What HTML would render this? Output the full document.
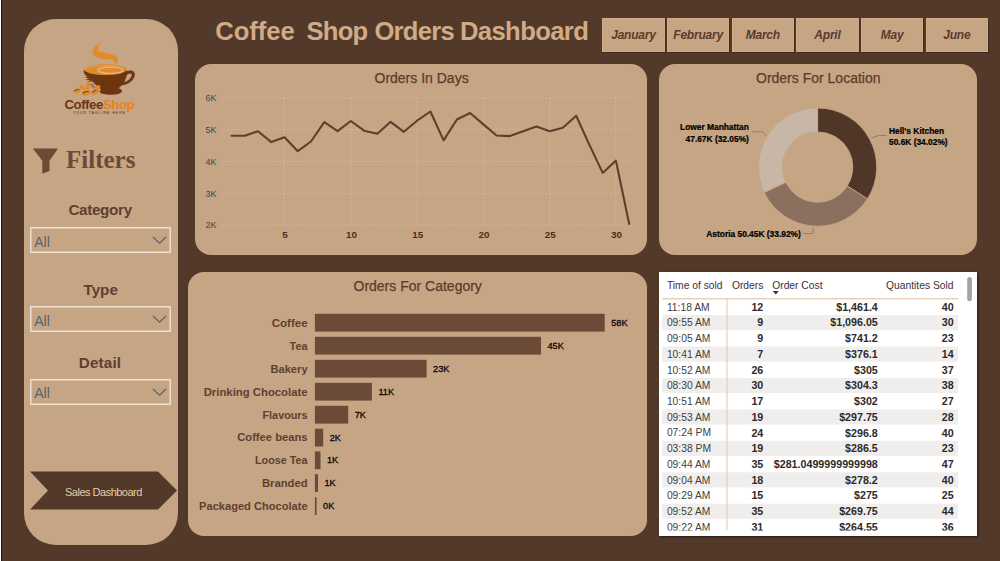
<!DOCTYPE html>
<html lang="en">
<head>
<meta charset="utf-8">
<title>Coffee Shop Orders Dashboard</title>
<style>
*{box-sizing:border-box;margin:0;padding:0}
html,body{width:1000px;height:561px;overflow:hidden}
body{background:#523929;font-family:"Liberation Sans",sans-serif;position:relative}
.abs{position:absolute}
.t{position:absolute;white-space:nowrap;line-height:1}
.panel{position:absolute;background:#c6a585}
#edgeL{left:0;top:0;width:1px;height:561px;background:#fff}
#edgeL2{left:1px;top:0;width:1px;height:561px;background:#2a1610}
#side{left:24px;top:19px;width:154px;height:526px;border-radius:32px}
#pLine{left:195px;top:64px;width:452px;height:191px;border-radius:16px}
#pDonut{left:659px;top:64px;width:318px;height:191px;border-radius:16px}
#pBar{left:188px;top:272px;width:459px;height:264px;border-radius:16px}
#pTable{left:659px;top:272px;width:318px;height:264px;background:#fff;overflow:hidden;box-shadow:1px 1px 2px #2a1610}
.tw{top:18.7px;font-size:25.6px;font-weight:bold;color:#d0ab87}
.mbtn{position:absolute;top:18px;width:62.6px;height:34px;background:#c6a585;border:1px solid #d1ac89;box-shadow:1px 1px 0 #3e291c;
  font-weight:bold;font-style:italic;font-size:12px;color:#5a3b2a;text-align:center;line-height:32px;letter-spacing:-0.2px}
.ptitle{color:#5b3c2b;font-size:14px;-webkit-text-stroke:0.25px #5b3c2b}
.flabel{font-weight:bold;color:#5e4030;font-size:15.2px;text-align:center;width:154px;left:24px}
.dd{position:absolute;left:30px;width:141px;height:26px}
.dd span{position:absolute;left:4.2px;top:7.9px;font-size:14.1px;color:#56636e;line-height:1}
.dd svg.bx{position:absolute;left:0;top:0}
.dd svg.cv{position:absolute;left:122.3px;top:9px}
</style>
</head>
<body>
<div class="abs" id="edgeL"></div><div class="abs" id="edgeL2"></div>

<!-- SIDEBAR -->
<div class="panel" id="side"></div>
<!-- logo -->
<svg class="abs" style="left:60px;top:38px" width="80" height="80" viewBox="60 38 80 80">
  <!-- steam -->
  <path d="M100.4 42.4 C98.8 45 98.2 47.6 98.8 49.4 C99.6 51.8 103 52.6 108 53.5 C113 54.4 117.6 56 118 59.6 C118.2 62 116.6 63.8 114 65.3 C115 63.6 115.2 62 114 61 C112 59.3 110 59.2 106 59 C102 58.8 99.6 58.6 97 57.4 C94.2 56 92.5 54 92.5 51.4 C92.5 48.6 95.6 45 100.4 42.4 Z" fill="#e18a2a"/>
  <path d="M97.7 45.2 C97 47.6 97.6 50.2 99.8 52.2" fill="none" stroke="#dca462" stroke-width="0.7"/>
  <!-- cup body -->
  <path d="M83.5 70.6 L127.2 70.2 C127.4 77 124.4 84 118.6 88.2 C120.6 88.8 122 89.8 122 91 C122 93.4 117 94.8 111.2 94.8 C105.4 94.8 99.8 93.8 99.6 91.8 C99.6 91 100.2 90.4 101.2 89.8 C98 87.4 95 84.6 92.8 81.6 L86 81.4 L91 80.4 L85 79.4 L89.6 78.6 L84.8 77.4 L87.4 76.8 C85 75.2 83.6 73 83.5 70.6 Z" fill="#6d3611"/>
  <!-- handle -->
  <path d="M125.4 72.4 C128.4 70 132.6 69.8 134.2 72.2 C136 75 134 79.6 129.6 82.6 C127 84.4 124.2 85.2 121.6 85.4 L123.4 82.2 C125.6 81.8 127.8 80.8 129.4 79.2 C131.6 77 132.4 74.6 131.2 73.8 C130 73 127.8 74 126.2 75.6 Z" fill="#6d3611"/>
  <!-- rim / coffee -->
  <ellipse cx="105.5" cy="69.6" rx="21.3" ry="5.5" fill="#e18a2a"/>
  <ellipse cx="110.5" cy="70.2" rx="12.6" ry="3.1" fill="none" stroke="#dbb893" stroke-width="1.2"/>
  <path d="M85 68.6 C92 65.4 108 64.6 118 66.4" fill="none" stroke="#d3a777" stroke-width="0.8"/>
  <!-- beans -->
  <g>
  <ellipse cx="77" cy="91" rx="3.7" ry="2.2" fill="#e18a2a" transform="rotate(-12 77 91)"/>
  <path d="M73.4 91.6 C74.4 89.6 77.4 88.6 80.4 89.6 C78 89.8 75.2 90.4 73.4 91.6 Z" fill="#6d3611"/>
  <ellipse cx="82.4" cy="87.6" rx="3.3" ry="2.1" fill="#e18a2a" transform="rotate(35 82.4 87.6)"/>
  <ellipse cx="88.2" cy="86" rx="4" ry="2.3" fill="#e18a2a" transform="rotate(-75 88.2 86)"/>
  <ellipse cx="86.2" cy="93" rx="4.3" ry="2.5" fill="#e18a2a" transform="rotate(-12 86.2 93)"/>
  <path d="M82 93.8 C83.4 91.4 87 90.4 90.4 91.6 C87.4 91.8 84.2 92.6 82 93.8 Z" fill="#6d3611"/>
  <ellipse cx="95" cy="91.8" rx="4.1" ry="2.4" fill="#e18a2a" transform="rotate(-25 95 91.8)"/>
  <path d="M91.4 93.6 C92.2 91 95.4 89.2 98.6 89.8 C95.8 90.6 93.2 91.8 91.4 93.6 Z" fill="#6d3611"/>
  <ellipse cx="97.4" cy="87.8" rx="3.2" ry="2" fill="#e18a2a" transform="rotate(-40 97.4 87.8)"/>
  <path d="M90.6 84 L93.6 88.4 M92 83.4 L95 87.6" stroke="#6d3611" stroke-width="0.7" fill="none"/>
  </g>
  <text x="64.4" y="109.2" font-family="Liberation Sans, sans-serif" font-weight="bold" font-size="13.2" letter-spacing="-0.42" fill="#6d3611">Coffee<tspan fill="#e9821d">Shop</tspan></text>
  <text x="73" y="113.5" font-family="Liberation Sans, sans-serif" font-size="3.7" letter-spacing="0.86" fill="#5a3214">YOUR TAGLINE HERE</text>
</svg>
<!-- filters heading -->
<svg class="abs" style="left:32px;top:147px" width="28" height="28" viewBox="0 0 28 28">
  <path d="M0.9 1.4 L26 1.4 L17.5 13.8 L17.5 24 L10.3 26.8 L10.3 13.8 Z" fill="#6b4a36"/>
</svg>
<div class="t" style="left:66px;top:147.2px;font-family:'Liberation Serif',serif;font-weight:bold;font-size:25px;color:#6b4a36">Filters</div>
<div class="t flabel" style="top:202.2px;left:23.1px;letter-spacing:-0.3px">Category</div>
<div class="dd" style="top:226.9px"><span>All</span><svg class="bx" width="141" height="26"><rect x="0.75" y="0.75" width="139.5" height="24.5" fill="none" stroke="#ecdfce" stroke-width="1.5"/></svg><svg class="cv" width="15" height="9" viewBox="0 0 15 9"><path d="M1 1 L7.5 7.2 L14 1" fill="none" stroke="#56636e" stroke-width="1.15"/></svg></div>
<div class="t flabel" style="top:282.1px;left:23.7px">Type</div>
<div class="dd" style="top:306.1px"><span>All</span><svg class="bx" width="141" height="26"><rect x="0.75" y="0.75" width="139.5" height="24.5" fill="none" stroke="#ecdfce" stroke-width="1.5"/></svg><svg class="cv" width="15" height="9" viewBox="0 0 15 9"><path d="M1 1 L7.5 7.2 L14 1" fill="none" stroke="#56636e" stroke-width="1.15"/></svg></div>
<div class="t flabel" style="top:354.6px;left:23px;letter-spacing:0.15px">Detail</div>
<div class="dd" style="top:378.5px"><span>All</span><svg class="bx" width="141" height="26"><rect x="0.75" y="0.75" width="139.5" height="24.5" fill="none" stroke="#ecdfce" stroke-width="1.5"/></svg><svg class="cv" width="15" height="9" viewBox="0 0 15 9"><path d="M1 1 L7.5 7.2 L14 1" fill="none" stroke="#56636e" stroke-width="1.15"/></svg></div>
<!-- nav arrow -->
<svg class="abs" style="left:28px;top:470px" width="152" height="42" viewBox="28 470 152 42">
  <path d="M30 471.6 L158 471.6 L177 490.6 L158 509.6 L30 509.6 L48 490.6 Z" fill="#523929"/>
</svg>
<div class="t" style="left:65px;top:486.5px;font-size:11px;letter-spacing:-0.5px;color:#e6cbab">Sales Dashboard</div>

<!-- TITLE -->
<div class="t tw" style="left:215.3px;letter-spacing:-0.05px">Coffee</div>
<div class="t tw" style="left:306.6px;letter-spacing:-0.8px">Shop</div>
<div class="t tw" style="left:374.4px;letter-spacing:-0.7px">Orders</div>
<div class="t tw" style="left:460px;letter-spacing:-0.61px">Dashboard</div>

<!-- MONTH BUTTONS -->
<div class="mbtn" style="left:602.20px">January</div>
<div class="mbtn" style="left:666.86px">February</div>
<div class="mbtn" style="left:731.52px">March</div>
<div class="mbtn" style="left:796.18px">April</div>
<div class="mbtn" style="left:860.84px">May</div>
<div class="mbtn" style="left:925.50px">June</div>

<!-- PANELS -->
<div class="panel" id="pLine"></div>
<div class="panel" id="pDonut"></div>
<div class="panel" id="pBar"></div>
<div class="panel" id="pTable"></div>
<div class="t ptitle" style="left:374.5px;top:71px">Orders In Days</div>
<div class="t ptitle" style="left:756px;top:71px">Orders For Location</div>
<div class="t ptitle" style="left:353.5px;top:279px">Orders For Category</div>

<!-- LINE CHART -->
<svg class="abs" style="left:195px;top:64px" width="453" height="192" viewBox="195 64 453 192">
<g stroke="#dcc8b1" stroke-width="0.9" stroke-dasharray="1.8 2" fill="none" opacity="0.62">
<path d="M222.5 97.8 H637"/><path d="M222.5 129.7 H637"/><path d="M222.5 161.5 H637"/><path d="M222.5 193.3 H637"/><path d="M222.5 225.1 H637"/>
<path d="M284.5 97.8 V225.1"/><path d="M350.8 97.8 V225.1"/><path d="M417.1 97.8 V225.1"/><path d="M483.4 97.8 V225.1"/><path d="M549.7 97.8 V225.1"/><path d="M615.9 97.8 V225.1"/>
</g>
<polyline points="231.5,135.8 244.8,135.8 258.0,131.2 271.3,142.1 284.5,137.2 297.8,151.2 311.0,141.5 324.3,122.1 337.6,131.2 350.8,121 364.1,130.7 377.3,133.8 390.6,121.8 403.8,131.8 417.1,120.7 430.4,111.5 443.6,140.4 456.9,119.5 470.1,113 483.4,124.4 496.6,135.5 509.9,136.1 523.1,131.2 536.4,126.4 549.7,131.2 562.9,127.8 576.2,115.8 589.4,144.9 602.7,172.9 615.9,160.6 629.2,224" fill="none" stroke="#5f3f2c" stroke-width="2.1" stroke-linejoin="round" stroke-linecap="round"/>
<g font-family="Liberation Sans, sans-serif" font-size="9" fill="#42474e">
<text x="205.6" y="101.0">6K</text><text x="205.6" y="132.89999999999998">5K</text><text x="205.6" y="164.7">4K</text><text x="205.6" y="196.5">3K</text><text x="205.6" y="228.29999999999998">2K</text>
</g>
<g font-family="Liberation Sans, sans-serif" font-size="9.8" font-weight="bold" fill="#4c2e1e" text-anchor="middle">
<text x="285.1" y="237.8">5</text><text x="351.4" y="237.8">10</text><text x="417.7" y="237.8">15</text><text x="484.0" y="237.8">20</text><text x="550.3" y="237.8">25</text><text x="616.5" y="237.8">30</text>
</g>
</svg>
<!-- DONUT -->
<svg class="abs" style="left:659px;top:64px" width="318" height="192" viewBox="659 64 318 192">
<path d="M817.60 108.00 A59.1 59.1 0 0 1 867.46 198.83 L847.30 186.00 A35.2 35.2 0 0 0 817.60 131.90 Z" fill="#4f3626" stroke="#c6a585" stroke-width="0.8"/>
<path d="M867.46 198.83 A59.1 59.1 0 0 1 764.22 192.46 L785.81 182.21 A35.2 35.2 0 0 0 847.30 186.00 Z" fill="#8b705f" stroke="#c6a585" stroke-width="0.8"/>
<path d="M764.22 192.46 A59.1 59.1 0 0 1 817.60 108.00 L817.60 131.90 A35.2 35.2 0 0 0 785.81 182.21 Z" fill="#c8b6a7" stroke="#c6a585" stroke-width="0.8"/>
<g fill="none" stroke="#8b7c6f" stroke-width="1">
<path d="M751.8 131.8 H762.2 L766.3 135.6"/><path d="M886.9 135.6 H878.2 L871.6 137.9"/><path d="M803.4 233.6 H813 V227.8"/>
</g>
<g font-family="Liberation Sans, sans-serif" font-size="8.4" font-weight="bold" fill="#000" stroke="#000" stroke-width="0.22">
<text x="748.9" y="129.9" text-anchor="end">Lower Manhattan</text><text x="748.9" y="141.5" text-anchor="end">47.67K (32.05%)</text>
<text x="889" y="133.9">Hell's Kitchen</text><text x="889" y="144.9">50.6K (34.02%)</text>
<text x="706.3" y="236.6">Astoria 50.45K (33.92%)</text>
</g>
</svg>
<!-- BAR CHART -->
<svg class="abs" style="left:188px;top:272px" width="460" height="264" viewBox="188 272 460 264">
<g fill="#6b4b37">
<rect x="314.9" y="313.8" width="289.8" height="17.8"/><rect x="314.9" y="336.8" width="226.1" height="17.8"/><rect x="314.9" y="359.8" width="111.7" height="17.8"/><rect x="314.9" y="382.8" width="57.0" height="17.8"/><rect x="314.9" y="405.8" width="33.3" height="17.8"/><rect x="314.9" y="428.7" width="8.3" height="17.8"/><rect x="314.9" y="451.4" width="5.6" height="17.8"/><rect x="314.9" y="474.2" width="3.1" height="17.8"/><rect x="314.9" y="497.2" width="1.7" height="17.8"/>
</g>
<g font-family="Liberation Sans, sans-serif" font-size="11.4" font-weight="bold" fill="#5e4030" text-anchor="end">
<text x="307.6" y="326.5" textLength="35.9" lengthAdjust="spacingAndGlyphs">Coffee</text><text x="307.6" y="349.5" textLength="18.1" lengthAdjust="spacingAndGlyphs">Tea</text><text x="307.6" y="372.5" textLength="37.2" lengthAdjust="spacingAndGlyphs">Bakery</text><text x="307.6" y="395.5" textLength="103.9" lengthAdjust="spacingAndGlyphs">Drinking Chocolate</text><text x="307.6" y="418.5" textLength="45.1" lengthAdjust="spacingAndGlyphs">Flavours</text><text x="307.6" y="441.4" textLength="70.4" lengthAdjust="spacingAndGlyphs">Coffee beans</text><text x="307.6" y="464.1" textLength="52.6" lengthAdjust="spacingAndGlyphs">Loose Tea</text><text x="307.6" y="486.9" textLength="45.7" lengthAdjust="spacingAndGlyphs">Branded</text><text x="307.6" y="509.9" textLength="108.5" lengthAdjust="spacingAndGlyphs">Packaged Chocolate</text>
</g>
<g font-family="Liberation Sans, sans-serif" font-size="9.2" fill="#0a0605" stroke="#0a0605" stroke-width="0.3">
<text x="611.2" y="325.6">58K</text><text x="547.5" y="348.6">45K</text><text x="433.1" y="371.6">23K</text><text x="378.4" y="394.6">11K</text><text x="354.7" y="417.6">7K</text><text x="329.7" y="440.5">2K</text><text x="327.0" y="463.2">1K</text><text x="324.5" y="486.0">1K</text><text x="323.1" y="509.0">0K</text>
</g>
</svg>
<!-- TABLE -->
<svg class="abs" style="left:659px;top:272px" width="318" height="264" viewBox="659 272 318 264">
<g fill="#f0eeec"><rect x="662.3" y="315.1" width="295.7" height="15.1"/><rect x="662.3" y="346.5" width="295.7" height="15.1"/><rect x="662.3" y="377.9" width="295.7" height="15.1"/><rect x="662.3" y="409.4" width="295.7" height="15.1"/><rect x="662.3" y="440.8" width="295.7" height="15.1"/><rect x="662.3" y="472.3" width="295.7" height="15.1"/><rect x="662.3" y="503.7" width="295.7" height="15.1"/></g>
<path d="M662.3 298.8 H958" stroke="#d9bb9f" stroke-width="1"/><path d="M727 298.8 V530.6" stroke="#e0c8b0" stroke-width="1"/>
<g font-family="Liberation Sans, sans-serif" font-size="10.3" fill="#3b3038">
<text x="666.9" y="288.8">Time of sold</text><text x="731.9" y="288.8">Orders</text><text x="772.2" y="288.8">Order Cost</text><text x="953.5" y="288.8" text-anchor="end">Quantites Sold</text>
</g>
<path d="M772.8 291 H778.8 L775.8 294.4 Z" fill="#3b3038"/>
<g font-family="Liberation Sans, sans-serif" font-size="10.3" fill="#3e3e3e">
<text x="666.9" y="310.6">11:18 AM</text><text x="666.9" y="326.3">09:55 AM</text><text x="666.9" y="342.0">09:05 AM</text><text x="666.9" y="357.8">10:41 AM</text><text x="666.9" y="373.5">10:52 AM</text><text x="666.9" y="389.2">08:30 AM</text><text x="666.9" y="404.9">10:51 AM</text><text x="666.9" y="420.6">09:53 AM</text><text x="666.9" y="436.4">07:24 PM</text><text x="666.9" y="452.1">03:38 PM</text><text x="666.9" y="467.8">09:44 AM</text><text x="666.9" y="483.5">09:04 AM</text><text x="666.9" y="499.2">09:29 AM</text><text x="666.9" y="515.0">09:52 AM</text><text x="666.9" y="530.7">09:22 AM</text>
</g>
<g font-family="Liberation Sans, sans-serif" font-size="10.7" font-weight="bold" fill="#2e2a2a" text-anchor="end">
<text x="763.3" y="310.7">12</text><text x="877.8" y="310.7">$1,461.4</text><text x="953.7" y="310.7">40</text>
<text x="763.3" y="326.4">9</text><text x="877.8" y="326.4">$1,096.05</text><text x="953.7" y="326.4">30</text>
<text x="763.3" y="342.1">9</text><text x="877.8" y="342.1">$741.2</text><text x="953.7" y="342.1">23</text>
<text x="763.3" y="357.9">7</text><text x="877.8" y="357.9">$376.1</text><text x="953.7" y="357.9">14</text>
<text x="763.3" y="373.6">26</text><text x="877.8" y="373.6">$305</text><text x="953.7" y="373.6">37</text>
<text x="763.3" y="389.3">30</text><text x="877.8" y="389.3">$304.3</text><text x="953.7" y="389.3">38</text>
<text x="763.3" y="405.0">17</text><text x="877.8" y="405.0">$302</text><text x="953.7" y="405.0">27</text>
<text x="763.3" y="420.7">19</text><text x="877.8" y="420.7">$297.75</text><text x="953.7" y="420.7">28</text>
<text x="763.3" y="436.5">24</text><text x="877.8" y="436.5">$296.8</text><text x="953.7" y="436.5">40</text>
<text x="763.3" y="452.2">19</text><text x="877.8" y="452.2">$286.5</text><text x="953.7" y="452.2">23</text>
<text x="763.3" y="467.9">35</text><text x="877.8" y="467.9">$281.0499999999998</text><text x="953.7" y="467.9">47</text>
<text x="763.3" y="483.6">18</text><text x="877.8" y="483.6">$278.2</text><text x="953.7" y="483.6">40</text>
<text x="763.3" y="499.3">15</text><text x="877.8" y="499.3">$275</text><text x="953.7" y="499.3">25</text>
<text x="763.3" y="515.1">35</text><text x="877.8" y="515.1">$269.75</text><text x="953.7" y="515.1">44</text>
<text x="763.3" y="530.8">31</text><text x="877.8" y="530.8">$264.55</text><text x="953.7" y="530.8">36</text>
</g>
<rect x="659" y="530.6" width="318" height="6" fill="#fff"/>
<rect x="967.2" y="277" width="4.7" height="24.3" rx="2.3" fill="#a3a3a3"/>
</svg>
</body>
</html>
